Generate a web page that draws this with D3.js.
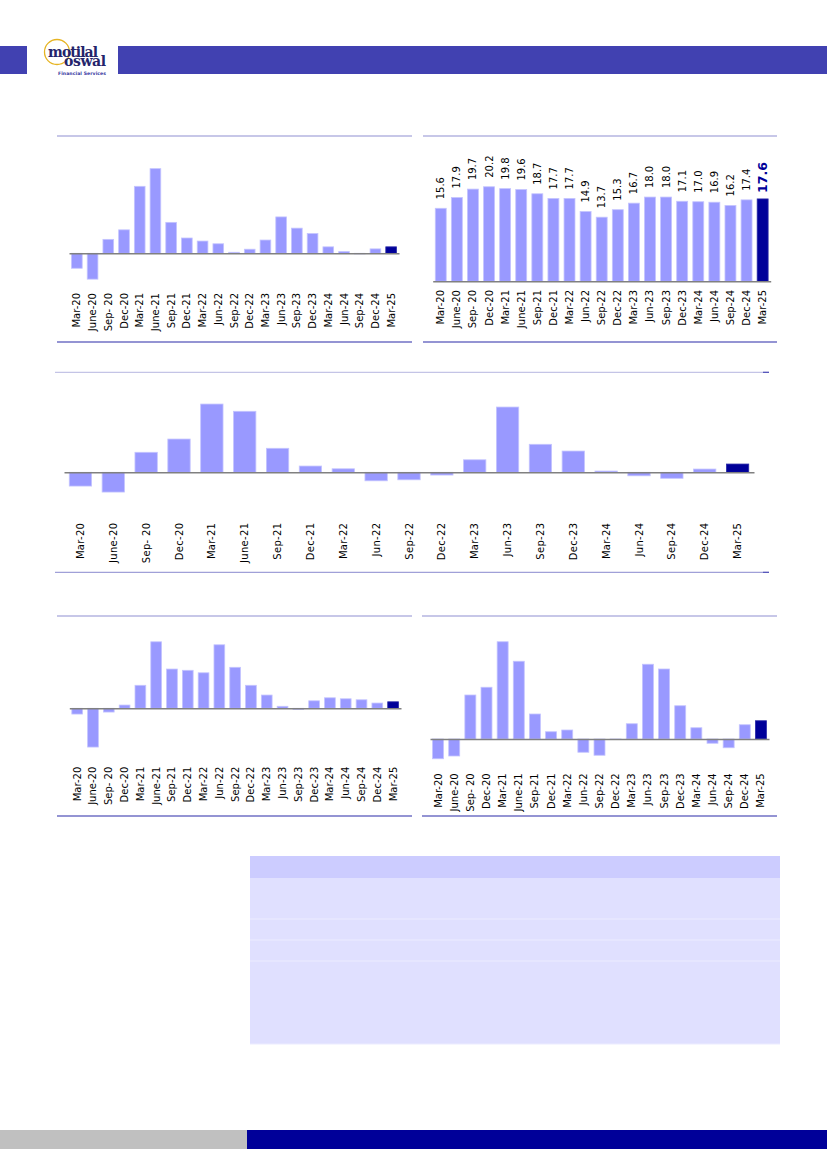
<!DOCTYPE html>
<html>
<head>
<meta charset="utf-8">
<script src="https://cdn.jsdelivr.net/npm/d3@7"></script>
<style>
  body { margin: 0; background: #ffffff; }
  text { font-family: "DejaVu Sans", Verdana, sans-serif; }
</style>
</head>
<body>
<div id="page"></div>
<script>
// quarters shared by all five panels
const quarters = ["Mar-20", "June-20", "Sep- 20", "Dec-20", "Mar-21", "June-21", "Sep-21", "Dec-21",
  "Mar-22", "Jun-22", "Sep-22", "Dec-22", "Mar-23", "Jun-23", "Sep-23", "Dec-23",
  "Mar-24", "Jun-24", "Sep-24", "Dec-24", "Mar-25"];

// values (unlabelled panels are estimates)
const topLeftValues = [-4.4, -7.6, 4.1, 6.9, 19.7, 24.9, 9.1, 4.5, 3.6, 2.8, 0.3, 1.2, 3.9, 10.7, 7.4, 5.8, 1.9, 0.5, -0.15, 1.3, 1.9];
const topRightValues = [15.6, 17.9, 19.7, 20.2, 19.8, 19.6, 18.7, 17.7, 17.7, 14.9, 13.7, 15.3, 16.7, 18.0, 18.0, 17.1, 17.0, 16.9, 16.2, 17.4, 17.6];
const middleValues = [-5.5, -7.9, 8.0, 13.3, 27.3, 24.4, 9.6, 2.5, 1.4, -3.4, -3.0, -1.1, 5.0, 26.1, 11.2, 8.5, 0.5, -1.4, -2.4, 1.3, 3.3];
const bottomLeftValues = [-2.3, -15.5, -1.5, 1.3, 9.2, 26.6, 15.7, 15.2, 14.2, 25.4, 16.4, 9.2, 5.3, 0.8, -0.5, 3.0, 4.2, 3.8, 3.4, 2.1, 2.6];
const bottomRightValues = [-7.9, -6.8, 17.6, 20.7, 38.9, 31.1, 10.0, 2.9, 3.6, -5.3, -6.5, 0, 6.1, 29.9, 28.0, 13.3, 4.5, -1.7, -3.5, 5.7, 7.3];

const W = 827, H = 1169;
const light = "#9999ff", dark = "#000099";

const svg = d3.select("#page").append("svg")
    .attr("width", W)
    .attr("height", H);

// header bands
svg.append("rect").attr("x", 0).attr("y", 46).attr("width", 27).attr("height", 28).attr("fill", "#4141b1");
svg.append("rect").attr("x", 118).attr("y", 46).attr("width", W - 118).attr("height", 28).attr("fill", "#4141b1");

// logo
const logo = svg.append("g");
logo.append("circle").attr("cx", 57).attr("cy", 52).attr("r", 12.5)
    .attr("fill", "none").attr("stroke", "#e6b422").attr("stroke-width", 1.3);
const word = logo.append("text")
    .style("font-family", "'DejaVu Serif', serif").style("font-weight", "bold")
    .style("font-size", "14px").attr("fill", "#24246b");
word.append("tspan").attr("x", 48).attr("y", 56.5).attr("textLength", 50).text("motilal");
word.append("tspan").attr("x", 64).attr("y", 66).attr("textLength", 42).text("oswal");
logo.append("text").attr("x", 58).attr("y", 74.6).text("Financial Services")
    .style("font-size", "4.6px").style("font-weight", "bold").attr("fill", "#3535a0")
    .attr("textLength", 48);

// footer
svg.append("rect").attr("x", 0).attr("y", 1130).attr("width", 247).attr("height", 19).attr("fill", "#c0c0c0");
svg.append("rect").attr("x", 247).attr("y", 1130).attr("width", W - 247).attr("height", 19).attr("fill", "#000099");

function rule(x1, x2, y, color) {
  svg.append("line").attr("x1", x1).attr("x2", x2).attr("y1", y).attr("y2", y)
      .attr("stroke", color).attr("stroke-width", 1.3);
}

function panel(cfg) {
  const g = svg.append("g");
  const x = d3.scaleBand().domain(quarters).range(cfg.xRange)
      .paddingInner(0.32).paddingOuter(0.16);
  const y = d3.scaleLinear().domain(cfg.yDomain).range(cfg.yRange);
  const rows = quarters.map((q, i) => ({q: q, v: cfg.values[i], last: i === quarters.length - 1}));

  g.selectAll("rect.bar")
    .data(rows)
    .join("rect")
      .attr("class", "bar")
      .attr("x", d => x(d.q))
      .attr("width", x.bandwidth())
      .attr("y", d => Math.min(y(d.v), y(0)))
      .attr("height", d => Math.max(0.6, Math.abs(y(d.v) - y(0))))
      .attr("fill", d => d.last ? dark : light)
      .attr("stroke", d => d.last ? "#2a2aa8" : "#c4c4ff")
      .attr("stroke-width", 0.8);

  // zero line
  const zero = g.append("g")
      .attr("transform", `translate(0,${y(0)})`)
      .call(d3.axisBottom(x).tickSize(0).tickSizeOuter(0).tickFormat(""));
  zero.select(".domain").attr("stroke", "#808080").attr("stroke-width", 1.5);

  // quarter labels
  const lab = g.append("g")
      .attr("transform", `translate(0,${cfg.labelTop})`)
      .call(d3.axisBottom(x).tickSize(0).tickPadding(0));
  lab.select(".domain").remove();
  lab.selectAll("text")
      .attr("transform", "rotate(-90)")
      .attr("text-anchor", "end")
      .attr("x", 0).attr("y", 0).attr("dy", "0.35em")
      .style("font-family", "'DejaVu Sans', Verdana, sans-serif")
      .style("font-size", "10px")
      .style("letter-spacing", cfg.spacing || "0px")
      .attr("fill", "#000");

  if (cfg.valueLabels) {
    g.selectAll("text.val")
      .data(rows)
      .join("text")
        .attr("class", "val")
        .attr("transform", d => `translate(${x(d.q) + x.bandwidth() / 2},${y(d.v) - (d.last ? 6 : 9)}) rotate(-90)`)
        .attr("dy", "0.35em")
        .style("font-size", d => d.last ? "12.5px" : "10px")
        .style("font-weight", d => d.last ? "bold" : "normal")
        .attr("fill", d => d.last ? dark : "#000")
        .text(d => d.v.toFixed(1));
  }
}

// panel frames
rule(57, 412, 136, "#b4b4e0");
rule(57, 412, 342, "#7070c4");
rule(423, 777, 136, "#b4b4e0");
rule(423, 777, 342, "#7070c4");
rule(55, 763, 372.3, "#c4c4e6");
rule(55, 763, 572.3, "#a0a0d8");
rule(763, 769, 372.3, "#5050b8");
rule(763, 769, 572.3, "#5050b8");
rule(57, 412, 616, "#b4b4e0");
rule(57, 412, 816, "#7070c4");
rule(422, 777, 616, "#b4b4e0");
rule(422, 777, 816, "#7070c4");

panel({values: topLeftValues, xRange: [69, 399], yDomain: [-10, 30], yRange: [287.3, 151.3], labelTop: 293});
panel({values: topRightValues, xRange: [432.7, 770.7], yDomain: [0, 25], yRange: [281.3, 164.3], labelTop: 290, valueLabels: true});
panel({values: middleValues, xRange: [64, 754], yDomain: [-10, 30], yRange: [497.3, 397.3], labelTop: 522.7, spacing: "0.3px"});
panel({values: bottomLeftValues, xRange: [69.3, 401], yDomain: [-20, 30], yRange: [758.3, 633.3], labelTop: 766.7});
panel({values: bottomRightValues, xRange: [430, 769], yDomain: [-10, 40], yRange: [764, 639], labelTop: 773.3});

// empty table block
const tableRows = [
  {top: 856, bottom: 878, fill: "#ccccff"},
  {top: 878, bottom: 919, fill: "#e0e0ff"},
  {top: 919, bottom: 940, fill: "#e0e0ff"},
  {top: 940, bottom: 961, fill: "#e0e0ff"},
  {top: 961, bottom: 1044, fill: "#e0e0ff"}
];
svg.selectAll("rect.row")
  .data(tableRows)
  .join("rect")
    .attr("class", "row")
    .attr("x", 250).attr("width", 530)
    .attr("y", d => d.top).attr("height", d => d.bottom - d.top)
    .attr("fill", d => d.fill);
svg.selectAll("line.sep")
  .data(tableRows.slice(1))
  .join("line")
    .attr("class", "sep")
    .attr("x1", 250).attr("x2", 780)
    .attr("y1", d => d.bottom).attr("y2", d => d.bottom)
    .attr("stroke", "#ececff").attr("stroke-width", 1);
</script>
</body>
</html>
